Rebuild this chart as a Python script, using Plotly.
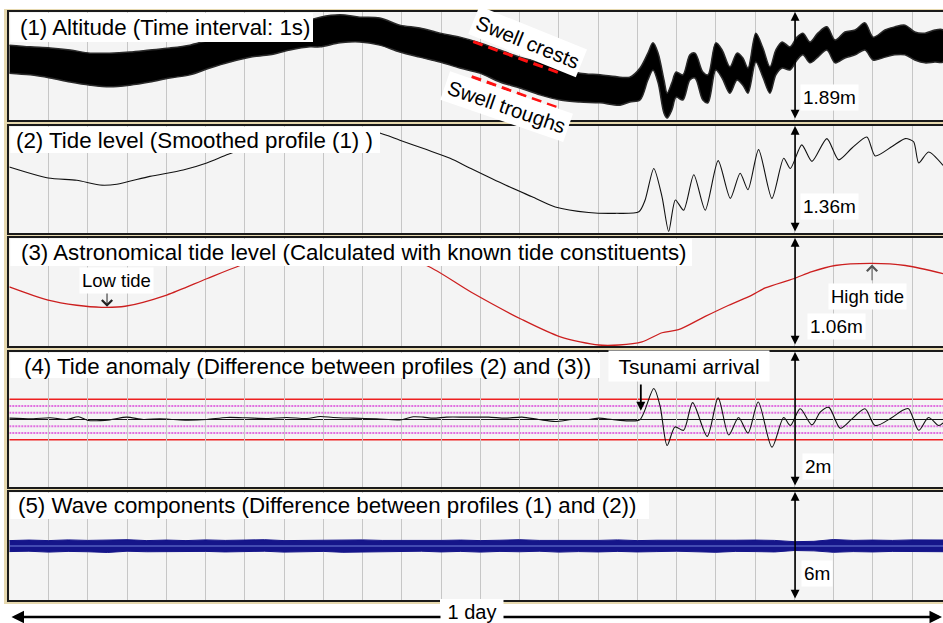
import plotly.graph_objects as go

W, H = 943, 623
FONT = "Liberation Sans, Arial, Helvetica, sans-serif"

# ---------------------------------------------------------------- data
# time axis in hours since the start of the one-day record

# (1) altitude, 1-s samples: upper / lower envelope of the swell band (m)
alt_hours = [0, 0.53, 1.04, 1.55, 2.06, 2.56, 3.07, 3.58, 4.09, 4.60,
             5.11, 5.62, 6.13, 6.64, 7.15, 7.66, 7.92, 8.43, 8.93, 9.44,
             9.95, 10.46, 10.97, 11.48, 11.99, 12.50, 13.01, 13.52, 14.03, 14.54,
             15.05, 15.56, 15.81, 16.07, 16.27, 16.40, 16.53, 16.68, 16.76, 16.88,
             16.99, 17.16, 17.34, 17.47, 17.67, 17.80, 18.00, 18.16, 18.36, 18.54,
             18.69, 18.82, 19.02, 19.20, 19.38, 19.53, 19.69, 19.89, 20.07, 20.22,
             20.40, 20.60, 20.83, 21.04, 21.29, 21.55, 21.80, 22.01, 22.31, 22.56,
             22.82, 23.07, 23.33, 23.58, 23.79]
alt_upper = [1.31, 1.28, 1.26, 1.225, 1.17, 1.17, 1.19, 1.225, 1.26, 1.31,
             1.40, 1.45, 1.52, 1.54, 1.61, 1.75, 1.80, 1.84, 1.80, 1.785,
             1.66, 1.61, 1.52, 1.45, 1.35, 1.225, 1.10, 1.015, 0.91, 0.82,
             0.79, 0.75, 0.75, 0.91, 1.17, 1.35, 1.17, 0.70, 0.47, 0.65,
             0.84, 0.79, 1.14, 1.17, 0.84, 0.79, 1.35, 1.225, 0.93, 1.17,
             1.085, 0.91, 1.52, 1.26, 0.93, 1.225, 1.365, 1.28, 1.45, 1.52,
             1.365, 1.52, 1.63, 1.40, 1.54, 1.575, 1.70, 1.45, 1.575, 1.63,
             1.66, 1.54, 1.52, 1.575, 1.575]
alt_lower = [0.82, 0.79, 0.735, 0.665, 0.61, 0.58, 0.61, 0.665, 0.735, 0.79,
             0.91, 1.015, 1.10, 1.14, 1.225, 1.28, 1.28, 1.35, 1.365, 1.31,
             1.19, 1.10, 1.015, 0.91, 0.82, 0.665, 0.56, 0.44, 0.35, 0.315,
             0.30, 0.26, 0.315, 0.35, 0.70, 0.875, 0.65, 0.12, 0.035, 0.175,
             0.40, 0.35, 0.70, 0.735, 0.35, 0.30, 0.875, 0.735, 0.47, 0.70,
             0.61, 0.47, 1.015, 0.75, 0.47, 0.79, 0.91, 0.875, 1.05, 1.14,
             1.00, 1.10, 1.225, 1.00, 1.085, 1.14, 1.225, 1.05, 1.10, 1.14,
             1.14, 1.05, 1.00, 1.015, 1.015]

# (2) tide level, smoothed altitude (m)
tide_hours = [0, 0.99, 1.72, 2.31, 2.74, 3.58, 4.43, 5.03, 5.58, 6.39,
              7.41, 8.43, 9.06, 9.44, 9.95, 10.63, 11.23, 11.76, 12.64, 13.32,
              13.91, 14.76, 15.44, 16.04, 16.20, 16.42, 16.63, 16.80, 16.97, 17.18,
              17.44, 17.73, 18.06, 18.37, 18.62, 18.82, 19.09, 19.43, 19.73, 19.90,
              20.19, 20.45, 20.83, 21.13, 21.47, 21.85, 22.06, 22.49, 22.83, 23.04,
              23.17, 23.42, 23.79]
tide_m = [0.84, 0.70, 0.67, 0.61, 0.62, 0.72, 0.80, 0.89, 1.00, 1.14,
          1.25, 1.31, 1.31, 1.27, 1.18, 1.06, 0.95, 0.82, 0.61, 0.46,
          0.33, 0.26, 0.25, 0.27, 0.42, 0.82, 0.46, 0.02, 0.42, 0.29,
          0.74, 0.29, 0.92, 0.44, 0.76, 0.55, 1.06, 0.44, 0.95, 0.82,
          1.12, 0.91, 1.20, 0.93, 1.08, 1.22, 0.98, 1.10, 1.20, 1.16,
          0.89, 1.03, 0.86]

# (3) astronomical tide from known constituents (m)
astro_hours = [0, 0.99, 1.72, 2.35, 2.95, 4.01, 5.03, 5.88, 6.90, 8.17,
               9.44, 10.63, 11.76, 13.06, 14.04, 15.02, 15.53, 16.12, 16.63, 17.05,
               17.73, 18.33, 18.92, 19.26, 19.98, 20.45, 21.04, 21.98, 22.83, 23.79]
astro_m = [0.58, 0.45, 0.40, 0.38, 0.39, 0.50, 0.66, 0.79, 0.92, 0.99,
           0.92, 0.79, 0.53, 0.26, 0.09, 0.01, 0.01, 0.04, 0.13, 0.16,
           0.29, 0.40, 0.50, 0.57, 0.66, 0.73, 0.79, 0.81, 0.79, 0.71]

# (4) tide anomaly = (2) - (3) (m)
anom_hours = [0, 0.61, 1.04, 1.46, 1.76, 2.01, 2.56, 2.99, 3.41, 3.84,
              4.18, 4.52, 5.03, 5.54, 6.05, 6.56, 7.07, 7.58, 7.92, 8.25,
              8.76, 9.36, 9.95, 10.29, 10.55, 10.80, 11.14, 11.65, 12.21, 12.64,
              13.06, 13.49, 13.91, 14.34, 14.76, 15.02, 15.36, 15.78, 16.07,
              16.42, 16.58, 16.76, 16.96, 17.18, 17.41, 17.78, 18.06, 18.33, 18.58,
              18.82, 19.08, 19.43, 19.73, 19.90, 20.15, 20.45, 20.66, 20.88, 21.17,
              21.47, 21.80, 22.06, 22.49, 22.74, 22.91, 23.17, 23.42, 23.68, 23.79]
anom_m = [0.02, 0.01, 0.025, 0.0, 0.04, -0.015, -0.005, 0.035, 0.0, 0.01,
          0.0, -0.01, 0.0, 0.03, 0.025, 0.015, 0.03, 0.015, 0.045, 0.03,
          0.02, 0.01, -0.005, 0.04, 0.035, 0.02, 0.035, 0.035, 0.035, 0.02,
          0.035, 0.0, -0.03, 0.0, 0.0, 0.02, 0.0, -0.02, 0.0,
          0.46, 0.20, -0.385, -0.11, -0.16, 0.25, -0.25, 0.32, -0.23, 0.03,
          -0.20, 0.26, -0.41, 0.03, -0.09, 0.16, -0.08, 0.11, 0.18, -0.13,
          0.01, 0.16, -0.09, 0.03, 0.13, 0.16, -0.16, 0.03, -0.09, -0.05]
anom_limit = [0.3]          # solid red reference lines (+/-)
anom_dotted = [0.1, 0.2]    # dotted magenta reference lines (+/-)

# (5) wave components = (1) - (2): envelope of the band (m)
wave_hours = [0, 0.5, 1, 1.5, 2, 2.5, 3, 3.5, 4, 4.5,
              5, 5.5, 6, 6.5, 7, 7.5, 8, 8.5, 9, 9.5,
              10, 10.5, 11, 11.5, 12, 12.5, 13, 13.5, 14, 14.5,
              15, 15.5, 16, 16.5, 17, 17.5, 18, 18.5, 19, 19.5,
              20, 20.5, 21, 21.5, 22, 22.5, 23, 23.5, 24]
wave_upper = [0.30, 0.33, 0.30, 0.34, 0.31, 0.32, 0.35, 0.30, 0.33, 0.30,
              0.34, 0.31, 0.32, 0.35, 0.30, 0.31, 0.33, 0.30, 0.34, 0.31,
              0.30, 0.33, 0.31, 0.33, 0.30, 0.32, 0.35, 0.31, 0.30, 0.33,
              0.31, 0.34, 0.30, 0.32, 0.31, 0.34, 0.30, 0.32, 0.33, 0.31,
              0.24, 0.26, 0.36, 0.31, 0.33, 0.31, 0.34, 0.32, 0.33]
wave_lower = [-0.31, -0.29, -0.34, -0.30, -0.32, -0.36, -0.29, -0.32, -0.34, -0.30,
              -0.30, -0.33, -0.31, -0.29, -0.34, -0.32, -0.30, -0.35, -0.31, -0.33,
              -0.31, -0.29, -0.33, -0.30, -0.34, -0.30, -0.32, -0.29, -0.34, -0.31,
              -0.33, -0.30, -0.33, -0.31, -0.29, -0.32, -0.35, -0.30, -0.31, -0.33,
              -0.25, -0.27, -0.35, -0.31, -0.33, -0.30, -0.34, -0.31, -0.32]

panel_titles = [
    "(1) Altitude (Time interval: 1s)",
    "(2) Tide level (Smoothed profile (1) )",
    "(3) Astronomical tide level (Calculated with known tide constituents)",
    "(4) Tide anomaly (Difference between profiles (2) and (3))",
    "(5) Wave components (Difference between profiles (1) and (2))",
]
panel_spans = [1.89, 1.36, 1.06, 2.0, 6.0]       # metres spanned by each panel
span_labels = ["1.89m", "1.36m", "1.06m", "2m", "6m"]

# annotation anchors (hours, metres)
swell_crest_line = [(11.82, 1.37), (13.99, 0.83)]
swell_trough_line = [(11.78, 0.76), (13.99, 0.21)]
low_tide_arrow = [(2.49, 0.53), (2.49, 0.385)]
high_tide_arrow = [(21.98, 0.63), (21.98, 0.80)]
tsunami_arrow = [(16.09, 0.54), (16.09, 0.13)]
span_arrow_hour = 20.02

# ---------------------------------------------------------------- layout helpers
def fx(p):
    return p / W


def fy(p):
    return 1 - p / H


panel_top = [12, 126, 238, 352, 492]
panel_bot = [120, 233, 346, 487, 600]
plot_left = 9.3
hour_px = 39.25
x_end = (W - plot_left) / hour_px

y_ranges = []
for i, s in enumerate(panel_spans):
    y_ranges.append([0, s] if i < 3 else [-s / 2, s / 2])

TAN = "#e6d8ae"
BG = "#f4f4f4"
GRID = "#c6c6c6"


def ax(i):
    return ("x", "y") if i == 0 else (f"x{i+1}", f"y{i+1}")


fig = go.Figure()

# (1) altitude band
fig.add_trace(go.Scatter(
    x=alt_hours + alt_hours[::-1], y=alt_upper + alt_lower[::-1],
    fill="toself", fillcolor="#000000", mode="lines",
    line=dict(color="#2a2a2a", width=1.5, shape="spline", smoothing=0.9),
    xaxis="x", yaxis="y", hoverinfo="skip"))

# (2) tide level
fig.add_trace(go.Scatter(
    x=tide_hours, y=tide_m, mode="lines",
    line=dict(color="#111111", width=1.1, shape="spline", smoothing=0.7),
    xaxis="x2", yaxis="y2", hoverinfo="skip"))

# (3) astronomical tide
fig.add_trace(go.Scatter(
    x=astro_hours, y=astro_m, mode="lines",
    line=dict(color="#cc1f1f", width=1.3, shape="spline", smoothing=0.8),
    xaxis="x3", yaxis="y3", hoverinfo="skip"))

# (4) tide anomaly
fig.add_trace(go.Scatter(
    x=anom_hours, y=anom_m, mode="lines",
    line=dict(color="#111111", width=1.1, shape="spline", smoothing=0.8),
    xaxis="x4", yaxis="y4", hoverinfo="skip"))

# (5) wave components band + centre line
fig.add_trace(go.Scatter(
    x=wave_hours + wave_hours[::-1], y=wave_upper + wave_lower[::-1],
    fill="toself", fillcolor="#15158a", mode="lines",
    line=dict(color="#15158a", width=1), xaxis="x5", yaxis="y5", hoverinfo="skip"))
fig.add_trace(go.Scatter(
    x=[wave_hours[0], wave_hours[-1]], y=[0, 0], mode="lines",
    line=dict(color="#7080d8", width=1), xaxis="x5", yaxis="y5", hoverinfo="skip"))

layout = dict(
    width=W, height=H, margin=dict(l=0, r=0, t=0, b=0),
    paper_bgcolor="white", plot_bgcolor=BG, showlegend=False,
    font=dict(family=FONT, color="black"),
)
for i in range(5):
    xa, ya = ax(i)
    xkey = "xaxis" if i == 0 else f"xaxis{i+1}"
    ykey = "yaxis" if i == 0 else f"yaxis{i+1}"
    layout[xkey] = dict(
        domain=[fx(plot_left), 1], range=[0, x_end], anchor=ya,
        showgrid=True, gridcolor=GRID, gridwidth=1, tick0=0, dtick=1,
        showticklabels=False, ticks="", zeroline=False,
        showline=True, linecolor="#1a1a1a", linewidth=1.5, mirror=True,
        fixedrange=True)
    layout[ykey] = dict(
        domain=[fy(panel_bot[i]), fy(panel_top[i])], range=y_ranges[i], anchor=xa,
        showgrid=False, showticklabels=False, ticks="", zeroline=False,
        showline=True, linecolor="#1a1a1a", linewidth=1.5, mirror=False,
        fixedrange=True)

shapes = []


def prect(x0, y0, x1, y1, color, layer="below"):
    shapes.append(dict(type="rect", xref="paper", yref="paper",
                       x0=fx(x0), x1=fx(x1), y0=fy(y1), y1=fy(y0),
                       fillcolor=color, line=dict(width=0), layer=layer))


# tan frame around the stacked panels
prect(4, 9, plot_left, 604, TAN)
prect(4, 9, W, panel_top[0], TAN)
for i in range(4):
    prect(4, panel_bot[i], W, panel_top[i + 1], TAN)
prect(4, panel_bot[4], W, 604, TAN)

# reference lines of the anomaly panel
for v in anom_dotted:
    for s in (1, -1):
        shapes.append(dict(type="line", xref="x4", yref="y4", x0=0, x1=x_end,
                           y0=s * v, y1=s * v, layer="below",
                           line=dict(color="#e070e0", width=2, dash="2px,1px")))
for v in anom_limit:
    for s in (1, -1):
        shapes.append(dict(type="line", xref="x4", yref="y4", x0=0, x1=x_end,
                           y0=s * v, y1=s * v, layer="below",
                           line=dict(color="#ee2020", width=1.5)))
shapes.append(dict(type="line", xref="x4", yref="y4", x0=0, x1=x_end,
                   y0=0, y1=0, layer="below", line=dict(color="#111111", width=1)))

# swell crest / trough guides
for seg in (swell_crest_line, swell_trough_line):
    shapes.append(dict(type="line", xref="x", yref="y",
                       x0=seg[0][0], y0=seg[0][1], x1=seg[1][0], y1=seg[1][1],
                       layer="above", line=dict(color="#ff1010", width=3, dash="10px,6px")))

# white title boxes
title_box_right = [313, 380, 692, 600, 649]
title_box_bottom = [42, 153, 266, 378, 519]
title_text_x = [18, 14, 19, 22, 16]
title_text_y = [27, 140, 252, 366, 506]
for i in range(5):
    prect(plot_left + 1, panel_top[i] + 1, title_box_right[i], title_box_bottom[i],
          "white", layer="above")

# white box behind the day label (covers frame edge)
prect(440, 599, 503, 623, "white", layer="above")

layout["shapes"] = shapes

ann = []
TITLE_SIZE = 22.3


def label(text, x, y, size, **kw):
    d = dict(text=text, xref="paper", yref="paper", x=fx(x), y=fy(y),
             xanchor="center", yanchor="middle", showarrow=False,
             font=dict(size=size, family=FONT, color="black"))
    d.update(kw)
    ann.append(d)


for i in range(5):
    label(panel_titles[i], title_text_x[i], title_text_y[i], TITLE_SIZE, xanchor="left")

# double-headed span arrows and their labels
label_pos = [(829, 97), (829, 206), (836, 326), (818, 466), (817, 573)]
for i in range(5):
    xa, ya = ax(i)
    ann.append(dict(x=span_arrow_hour, y=y_ranges[i][1], ax=span_arrow_hour,
                    ay=y_ranges[i][0], xref=xa, yref=ya, axref=xa, ayref=ya,
                    text="", showarrow=True, arrowhead=2, arrowside="end+start",
                    arrowsize=1.1, arrowwidth=1.6, arrowcolor="black",
                    standoff=0, startstandoff=0))
    label(span_labels[i], label_pos[i][0], label_pos[i][1], 19,
          bgcolor="white", borderpad=2)

# swell labels
label("Swell crests", 527, 42, 20.5, textangle=22, bgcolor="white", borderpad=3)
label("Swell troughs", 506, 107, 20.5, textangle=19, bgcolor="white", borderpad=3)

# low / high tide
label("Low tide", 116, 280, 18.5, bgcolor="white", borderpad=2)
ann.append(dict(x=low_tide_arrow[1][0], y=low_tide_arrow[1][1],
                ax=low_tide_arrow[0][0], ay=low_tide_arrow[0][1],
                xref="x3", yref="y3", axref="x3", ayref="y3", text="",
                showarrow=True, arrowhead=4, arrowsize=2, arrowwidth=1,
                arrowcolor="#222222", standoff=0, startstandoff=0))
label("High tide", 867, 296, 18.5, bgcolor="white", borderpad=2)
ann.append(dict(x=high_tide_arrow[1][0], y=high_tide_arrow[1][1],
                ax=high_tide_arrow[0][0], ay=high_tide_arrow[0][1],
                xref="x3", yref="y3", axref="x3", ayref="y3", text="",
                showarrow=True, arrowhead=4, arrowsize=2, arrowwidth=1,
                arrowcolor="#555555", standoff=0, startstandoff=0))

# tsunami arrival
label("Tsunami arrival", 689, 366, 21, bgcolor="white", width=158, height=28)
ann.append(dict(x=tsunami_arrow[1][0], y=tsunami_arrow[1][1],
                ax=tsunami_arrow[0][0], ay=tsunami_arrow[0][1],
                xref="x4", yref="y4", axref="x4", ayref="y4", text="",
                showarrow=True, arrowhead=2, arrowsize=1, arrowwidth=1.8,
                arrowcolor="black", standoff=0, startstandoff=0))

# one-day arrow along the bottom (tail offset given in pixels)
ann.append(dict(x=fx(942), y=fy(617), ax=-(942 - 10), ay=0,
                xref="paper", yref="paper", axref="pixel", ayref="pixel",
                text="", showarrow=True, arrowhead=2, arrowside="end+start",
                arrowsize=1, arrowwidth=2.5, arrowcolor="black",
                standoff=0, startstandoff=0))
label("1 day", 471.5, 612, 20, bgcolor="white", width=60, height=22)

layout["annotations"] = ann
fig.update_layout(**layout)
fig.write_html("out.html")
